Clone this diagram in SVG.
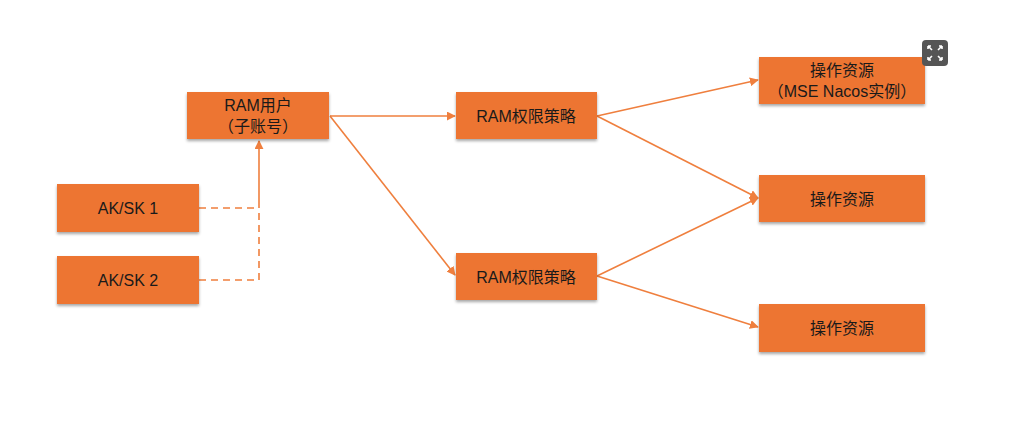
<svg xmlns="http://www.w3.org/2000/svg" width="1011" height="425" viewBox="0 0 1011 425">
<defs>
<filter id="sh" x="-10%" y="-10%" width="120%" height="140%">
<feDropShadow dx="0" dy="2" stdDeviation="1.5" flood-color="#000" flood-opacity="0.35"/>
</filter>
<marker id="ah" viewBox="0 0 10 10" refX="9" refY="5" markerWidth="9" markerHeight="9" markerUnits="userSpaceOnUse" orient="auto">
<path d="M0,0 L10,5 L0,10 z" fill="#ef7f3e"/>
</marker>
</defs>
<style>
.box{fill:#ed7532;filter:url(#sh)}
.t{font-family:"Liberation Sans","Noto Sans CJK SC",sans-serif;font-size:16px;fill:#1a1a1a;text-anchor:middle}
.c{stroke:#ef7f3e;stroke-width:1.6;fill:none}
.d{stroke:#ef7f3e;stroke-width:1.6;fill:none;stroke-dasharray:7,5}
</style>
<rect width="1011" height="425" fill="#fff"/>
<g id="connectors">
<path class="d" d="M199,208 H259"/>
<path class="d" d="M199,280 H259 V208"/>
<path class="c" d="M259,208 V141" marker-end="url(#ah)"/>
<path class="c" d="M330,116 H455" marker-end="url(#ah)"/>
<path class="c" d="M330,116 L455,275" marker-end="url(#ah)"/>
<path class="c" d="M597,116 L758,80" marker-end="url(#ah)"/>
<path class="c" d="M597,116 L758,198" marker-end="url(#ah)"/>
<path class="c" d="M597,276 L758,198" marker-end="url(#ah)"/>
<path class="c" d="M597,276 L758,327" marker-end="url(#ah)"/>
</g>
<g id="ram-user">
<rect class="box" x="187" y="92" width="142" height="47"/>
<text class="t" x="258" y="111">RAM用户</text>
<text class="t" x="258" y="132">（子账号）</text>
</g>
<g id="aksk1">
<rect class="box" x="57" y="184" width="142" height="48"/>
<text class="t" x="128" y="214">AK/SK 1</text>
</g>
<g id="aksk2">
<rect class="box" x="57" y="256" width="142" height="48"/>
<text class="t" x="128" y="286">AK/SK 2</text>
</g>
<g id="policy1">
<rect class="box" x="456" y="92" width="141" height="47"/>
<text class="t" x="526" y="122">RAM权限策略</text>
</g>
<g id="policy2">
<rect class="box" x="456" y="253" width="141" height="47"/>
<text class="t" x="526" y="283">RAM权限策略</text>
</g>
<g id="res1">
<rect class="box" x="759" y="57" width="166" height="47"/>
<text class="t" x="842" y="76">操作资源</text>
<text class="t" x="842" y="97">（MSE Nacos实例）</text>
</g>
<g id="res2">
<rect class="box" x="759" y="175" width="166" height="47"/>
<text class="t" x="842" y="205">操作资源</text>
</g>
<g id="res3">
<rect class="box" x="759" y="304" width="166" height="48"/>
<text class="t" x="842" y="334">操作资源</text>
</g>
<g id="expand-icon">
<rect x="922" y="40" width="26" height="26" rx="4" fill="#555"/>
<g stroke="#fff" stroke-width="1.6" fill="none">
<path d="M928,46 L932,50 M928,46 h3 M928,46 v3"/>
<path d="M942,46 L938,50 M942,46 h-3 M942,46 v3"/>
<path d="M928,60 L932,56 M928,60 h3 M928,60 v-3"/>
<path d="M942,60 L938,56 M942,60 h-3 M942,60 v-3"/>
</g>
</g>
</svg>
